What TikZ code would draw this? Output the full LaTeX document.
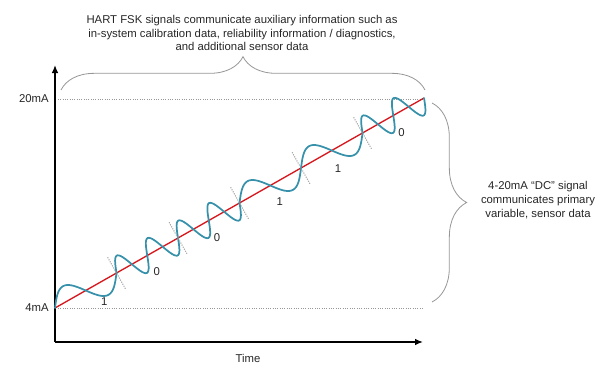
\documentclass[tikz,border=0pt]{standalone}
\usepackage{fontspec}
\setmainfont{Liberation Sans}
\usetikzlibrary{arrows.meta,positioning,calc,decorations.pathreplacing}

\definecolor{rampred}{RGB}{214,24,30}
\definecolor{fskblue}{RGB}{55,145,170}
\definecolor{braceg}{RGB}{150,150,150}

\tikzset{
    lbl/.style={font=\fontsize{8.5}{10.3}\selectfont, text=black!85, inner sep=0pt},
    guide/.style={braceg, densely dotted, line width=0.75pt},
    curly/.style={braceg, line width=0.6pt, decorate},
    wave/.style={fskblue, line width=1.3pt, line cap=round},
    axis/.style={-{Latex[length=6pt,width=5pt]}, line width=1.1pt},
}

\begin{document}
\begin{tikzpicture}[x=0.75pt, y=0.75pt]
    \useasboundingbox (0,0) rectangle (600,369);

    % Axes: current vs time
    \coordinate (O) at (55,27);
    \coordinate (ytop) at (55,304);
    \coordinate (xend) at (423,27);
    \draw[axis] (O) -- (xend);
    \draw[axis] (O) -- (ytop);
    \node[lbl] (time) at (248,11) {Time};

    % 4mA and 20mA levels
    \node[lbl, anchor=east] (ma20) at (49,270) {20mA};
    \node[lbl, anchor=east] (ma4) at (49,61) {4mA};
    \coordinate (hi0) at (58,270);
    \coordinate (hi1) at (423,270);
    \coordinate (lo0) at (58,61);
    \coordinate (lo1) at (423,61);
    \draw[guide] (hi0) -- (hi1);
    \draw[guide] (lo0) -- (lo1);

    % DC ramp
    \coordinate (start) at (55,61);
    \coordinate (stop) at (424,271);
    \draw[rampred, line width=1pt] (start) -- (stop);

    % FSK bits riding on the ramp (1 = one cycle, 0 = two cycles)
    \begin{scope}[shift={(start)}, rotate=29.64]
        \foreach \b/\f [count=\i from 0] in {1/0.65,0/0.5,0/0.48,1/0.5,1/0.45,0/0.48}{
            \draw[wave] plot[domain=0:70.77, samples=60, smooth, variable=\t]
                ({\i*70.77+\t}, {15*sin(5.087*\t*(2-\b))});
            \node[lbl] (bit\i) at ({(\i+\f)*70.77}, -19) {\b};
        }
        \foreach \i in {1,...,5}
            \draw[guide] ({\i*70.77},-18) -- ({\i*70.77},18);
    \end{scope}

    % Braces and notes
    \coordinate (tl) at (61,279);
    \coordinate (tr) at (425,279);
    \draw[curly, decoration={brace, amplitude=25pt}] (tl) -- (tr);
    \node[lbl, align=center] (hart) at (242,336)
        {HART FSK signals communicate auxiliary information such as\\
         in-system calibration data, reliability information / diagnostics,\\
         and additional sensor data};

    \coordinate (rt) at (432,266);
    \coordinate (rb) at (432,67);
    \draw[curly, decoration={brace, amplitude=26pt}] (rt) -- (rb);
    \node[lbl, align=center] (dc) at (538,169)
        {4-20mA “DC” signal\\ communicates primary\\ variable, sensor data};
\end{tikzpicture}
\end{document}
